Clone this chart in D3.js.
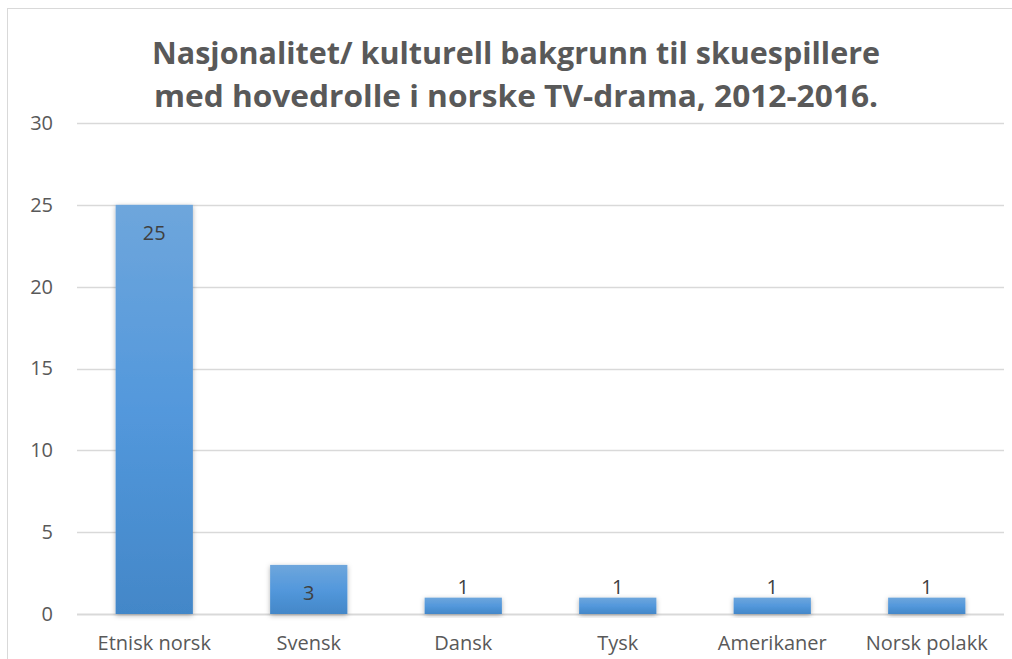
<!DOCTYPE html>
<html>
<head>
<meta charset="utf-8">
<script src="https://cdn.jsdelivr.net/npm/d3@7"></script>
<style>
  html, body { margin: 0; padding: 0; background: #fff; }
  svg { display: block; }
</style>
</head>
<body>
<svg id="chart" width="1012" height="659"></svg>
<script>
// Data
const categories = ['Etnisk norsk', 'Svensk', 'Dansk', 'Tysk', 'Amerikaner', 'Norsk polakk'];
const values = [25, 3, 1, 1, 1, 1];
const yTicks = [0, 5, 10, 15, 20, 25, 30];
const titleLines = [
  'Nasjonalitet/ kulturell bakgrunn til skuespillere',
  'med hovedrolle i norske TV-drama, 2012-2016.'
];

const W = 1012, H = 659;
const margin = { left: 77, right: 8, top: 123, bottom: 45 };
const FONT = "'Open Sans', 'Liberation Sans', sans-serif";
const TEXT = '#595959';

const svg = d3.select('#chart');

// Chart frame (cropped on right/bottom in the original)
svg.append('rect')
  .attr('x', 7.5).attr('y', 8.5)
  .attr('width', W + 10).attr('height', H + 10)
  .attr('fill', '#fff')
  .attr('stroke', '#d9d9d9')
  .attr('stroke-width', 1);

const x = d3.scaleBand()
  .domain(categories)
  .range([margin.left, W - margin.right])
  .paddingInner(0.5)
  .paddingOuter(0.25);

const y = d3.scaleLinear()
  .domain([0, 30])
  .range([H - margin.bottom, margin.top]);

const defs = svg.append('defs');
const grad = defs.append('linearGradient')
  .attr('id', 'barGrad')
  .attr('x1', 0).attr('y1', 0).attr('x2', 0).attr('y2', 1);
grad.append('stop').attr('offset', '0%').attr('stop-color', '#6ea6dc');
grad.append('stop').attr('offset', '50%').attr('stop-color', '#5398dc');
grad.append('stop').attr('offset', '100%').attr('stop-color', '#4387c8');

const shadow = defs.append('filter')
  .attr('id', 'shadow')
  .attr('x', '-20%').attr('y', '-20%').attr('width', '140%').attr('height', '140%');
shadow.append('feDropShadow')
  .attr('dx', 0).attr('dy', 1.5)
  .attr('stdDeviation', 2.5)
  .attr('flood-color', '#000')
  .attr('flood-opacity', 0.3);

// Gridlines
svg.append('g')
  .selectAll('line')
  .data(yTicks)
  .join('line')
  .attr('x1', margin.left).attr('x2', W - margin.right)
  .attr('y1', d => Math.round(y(d)) + 0.5)
  .attr('y2', d => Math.round(y(d)) + 0.5)
  .attr('stroke', '#d9d9d9')
  .attr('stroke-width', d => d === 0 ? 2 : 1.3);

// Y axis labels
const yAxis = d3.axisLeft(y).tickValues(yTicks).tickSize(0).tickPadding(0);
svg.append('g')
  .attr('transform', `translate(${margin.left - 24},0)`)
  .call(yAxis)
  .call(g => g.select('.domain').remove())
  .call(g => g.selectAll('text')
    .attr('font-family', FONT)
    .attr('font-size', 20)
    .attr('fill', TEXT));

// X axis labels
const xAxis = d3.axisBottom(x).tickSize(0).tickPadding(0);
svg.append('g')
  .attr('transform', `translate(0,${H - margin.bottom + 22})`)
  .call(xAxis)
  .call(g => g.select('.domain').remove())
  .call(g => g.selectAll('text')
    .attr('font-family', FONT)
    .attr('font-size', 20)
    .attr('fill', TEXT));

// Bars
svg.append('g')
  .selectAll('rect')
  .data(values)
  .join('rect')
  .attr('x', (d, i) => x(categories[i]))
  .attr('y', d => y(d))
  .attr('width', x.bandwidth())
  .attr('height', d => y(0) - y(d))
  .attr('fill', 'url(#barGrad)')
  .attr('filter', 'url(#shadow)');

// Data labels
svg.append('g')
  .selectAll('text')
  .data(values)
  .join('text')
  .attr('x', (d, i) => x(categories[i]) + x.bandwidth() / 2)
  .attr('y', d => (y(0) - y(d)) > 30 ? y(d) + 35 : y(d) - 4)
  .attr('text-anchor', 'middle')
  .attr('font-family', FONT)
  .attr('font-size', 20)
  .attr('fill', '#404040')
  .text(d => d);

// Title
svg.append('g')
  .selectAll('text')
  .data(titleLines)
  .join('text')
  .attr('x', 516)
  .attr('y', (d, i) => 64 + i * 43)
  .attr('text-anchor', 'middle')
  .attr('font-family', FONT)
  .attr('font-weight', 'bold')
  .attr('font-size', 30)
  .attr('fill', TEXT)
  .attr('textLength', (d, i) => i === 0 ? 728 : 724)
  .attr('lengthAdjust', 'spacingAndGlyphs')
  .text(d => d);
</script>
</body>
</html>
